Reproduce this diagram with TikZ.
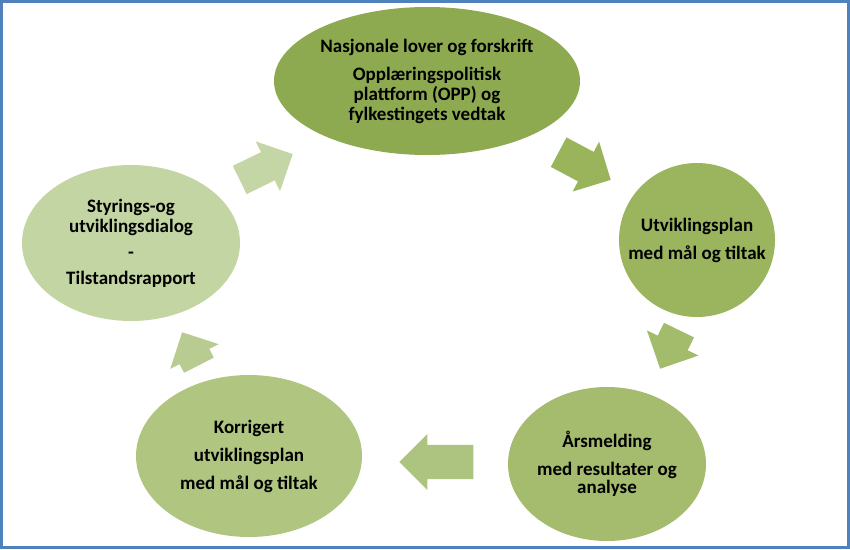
\documentclass[tikz,border=0pt]{standalone}
\usepackage{fontspec}
\setmainfont{Carlito}
\usetikzlibrary{positioning, shapes.geometric, shapes.arrows}

\definecolor{frameblue}{HTML}{4F81BD}
\definecolor{stageA}{HTML}{8EAA51}
\definecolor{stageB}{HTML}{9BB55E}
\definecolor{stageC}{HTML}{A5BC6E}
\definecolor{stageD}{HTML}{AFC580}
\definecolor{stageE}{HTML}{C3D5A3}
\definecolor{arrowA}{HTML}{9AB45C}
\definecolor{arrowB}{HTML}{A3BC6B}
\definecolor{arrowC}{HTML}{ACC47F}
\definecolor{arrowD}{HTML}{B8CC92}
\definecolor{arrowE}{HTML}{C4D6A6}

\tikzset{
  stage/.style={ellipse, draw=none, inner sep=-40pt, align=center,
    font=\bfseries\fontsize{19}{20}\selectfont},
  blockarrow/.style={single arrow, draw=none, inner xsep=0pt,
    single arrow tip angle=90, anchor=tip}
}

\begin{document}
\begin{tikzpicture}[x=1pt, y=-1pt]

\useasboundingbox (0,0) rectangle (850,549);

% --- Frame ---
\draw[frameblue, line width=3.3pt] (1.65,1.65) rectangle (848.35,547.35);

% --- Stages ---
\node[stage, fill=stageA, minimum width=306pt, minimum height=148pt] (lover) at (427,81)
  {Nasjonale lover og forskrift\\[8pt]Opplæringspolitisk\\plattform (OPP) og\\fylkestingets vedtak};
\node[stage, fill=stageB, minimum width=156pt, minimum height=154pt] (plan) at (697,240)
  {Utviklingsplan\\[8pt]med mål og tiltak};
\node[stage, fill=stageC, minimum width=198pt, minimum height=154pt] (melding) at (607,464)
  {Årsmelding\\[8pt]med resultater og\\[-2pt]analyse};
\node[stage, fill=stageD, minimum width=226pt, minimum height=162pt] (korrigert) at (249,456)
  {Korrigert\\[8pt]utviklingsplan\\[8pt]med mål og tiltak};
\node[stage, fill=stageE, minimum width=218pt, minimum height=156pt] (dialog) at (131,243)
  {Styrings-og\\utviklingsdialog\\[6pt]-\\[6pt]Tilstandsrapport};

% --- Block arrows (placed by their tips) ---
\node[blockarrow, fill=arrowA, minimum height=59pt, inner ysep=16.5pt,
  single arrow head extend=11.5pt, rotate=-28] (pil1) at (611,180) {};
\node[blockarrow, fill=arrowB, minimum height=43pt, inner ysep=16.5pt,
  single arrow head extend=12pt, rotate=-116] (pil2) at (660,369) {};
\node[blockarrow, fill=arrowC, minimum height=74pt, inner ysep=17pt,
  single arrow head extend=11pt, rotate=180] (pil3) at (399,462) {};
\node[blockarrow, fill=arrowD, minimum height=37pt, inner ysep=16.5pt,
  single arrow head extend=10.5pt, rotate=117] (pil4) at (182,332) {};
\node[blockarrow, fill=arrowE, minimum height=59pt, inner ysep=15.5pt,
  single arrow head extend=12pt, rotate=26] (pil5) at (293,154) {};

\end{tikzpicture}
\end{document}
